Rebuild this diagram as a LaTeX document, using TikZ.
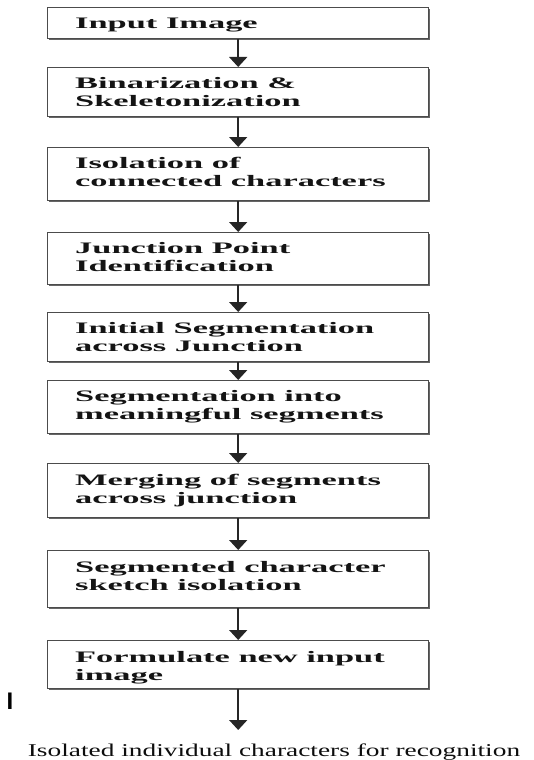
\documentclass[tikz,border=0pt]{standalone}
\usepackage{fontspec}
\usetikzlibrary{arrows.meta,shadows}
\newfontfamily\stepfont{Liberation Serif}[FakeStretch=2.15]
\newfontfamily\notefont{Liberation Serif}[FakeStretch=1.52]
\newfontfamily\markfont{Liberation Sans}
\begin{document}
\begin{tikzpicture}[x=1pt,y=-1pt,
  stepbox/.style={draw=black!70, line width=1.4pt, fill=white, minimum width=381pt,
    inner sep=0pt, anchor=north west,
    drop shadow={shadow xshift=1.3pt, shadow yshift=-1.3pt, fill=black!75, opacity=0.8}},
  steptext/.style={anchor=north west, inner sep=0pt, align=left, text=black!92,
    font=\stepfont\bfseries\fontsize{16}{18}\selectfont},
  flow/.style={-{Triangle[width=18pt,length=10pt]}, line width=1.6pt, black!85}]
\useasboundingbox (0,0) rectangle (533,760);

% process boxes (top edge, height)
\node[stepbox, minimum height=31pt] (b1) at (47,7)   {};
\node[stepbox, minimum height=49pt] (b2) at (47,67)  {};
\node[stepbox, minimum height=53pt] (b3) at (47,147) {};
\node[stepbox, minimum height=52pt] (b4) at (47,232) {};
\node[stepbox, minimum height=49pt] (b5) at (47,312) {};
\node[stepbox, minimum height=53pt] (b6) at (47,380) {};
\node[stepbox, minimum height=54pt] (b7) at (47,463) {};
\node[stepbox, minimum height=57pt] (b8) at (47,550) {};
\node[stepbox, minimum height=48pt] (b9) at (47,640) {};

% box captions
\node[steptext] (t1) at ([shift={(28,10.5)}]b1.north west) {Input Image};
\node[steptext] (t2) at ([shift={(28,10.5)}]b2.north west) {Binarization \& \\ Skeletonization};
\node[steptext] (t3) at ([shift={(28,10)}]b3.north west) {Isolation of \\ connected characters};
\node[steptext] (t4) at ([shift={(28,10.5)}]b4.north west) {Junction Point \\ Identification};
\node[steptext] (t5) at ([shift={(28,10.5)}]b5.north west) {Initial Segmentation \\ across Junction};
\node[steptext] (t6) at ([shift={(28,10)}]b6.north west) {Segmentation into \\ meaningful segments};
\node[steptext] (t7) at ([shift={(28,11)}]b7.north west) {Merging of segments \\ across junction};
\node[steptext] (t8) at ([shift={(28,11)}]b8.north west) {Segmented character \\ sketch isolation};
\node[steptext] (t9) at ([shift={(28,11)}]b9.north west) {Formulate new input \\ image};

% connectors
\draw[flow] (b1.south) -- (b2.north);
\draw[flow] (b2.south) -- (b3.north);
\draw[flow] (b3.south) -- (b4.north);
\draw[flow] (b4.south) -- (b5.north);
\draw[flow] (b5.south) -- (b6.north);
\draw[flow] (b6.south) -- (b7.north);
\draw[flow] (b7.south) -- (b8.north);
\draw[flow] (b8.south) -- (b9.north);
\coordinate (end) at (b9.south |- 0,730);
\draw[flow] (b9.south) -- (end);

% result caption and stray mark
\node[anchor=base, inner sep=0pt, text=black!95,
  font=\notefont\fontsize{18}{21}\selectfont] (out) at (274,756)
  {Isolated individual characters for recognition};
\node[inner sep=0pt, font=\markfont\bfseries\fontsize{24}{26}\selectfont] (mark) at (10,701) {I};
\end{tikzpicture}
\end{document}
